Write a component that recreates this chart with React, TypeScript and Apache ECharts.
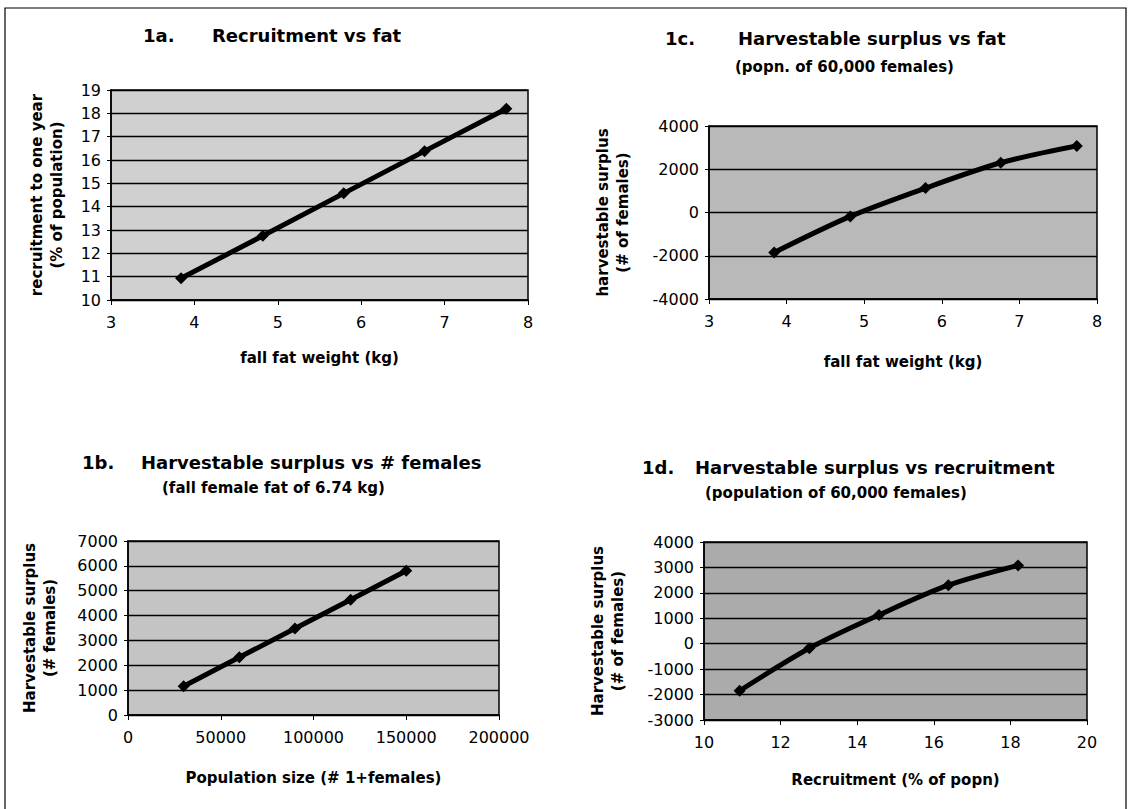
import React, { useEffect, useRef } from "react";
import * as echarts from "echarts";

// ---- data ----
const fatKg = [3.84, 4.82, 5.79, 6.76, 7.74];
const recruitPct = [10.93, 12.75, 14.57, 16.38, 18.2];
const surplus60k = [-1850, -180, 1130, 2300, 3080];
const popSize = [30000, 60000, 90000, 120000, 150000];
const surplusByPop = [1160, 2320, 3480, 4640, 5800];

const FONT = "DejaVu Sans";

const pairs = (xs: number[], ys: number[]) => xs.map((x, i) => [x, ys[i]]);
const plain = (v: number) => String(v);

const xAx = (gridIndex: number, min: number, max: number, interval: number, name: string, nameGap: number) => ({
  type: "value",
  gridIndex,
  min,
  max,
  interval,
  name,
  nameLocation: "middle",
  nameGap,
  nameTextStyle: { color: "#000", fontFamily: FONT, fontWeight: "bold", fontSize: 15 },
  axisLine: { show: true, onZero: false, lineStyle: { color: "#000", width: 1.5 } },
  axisTick: { show: true, length: 5, lineStyle: { color: "#000", width: 1 } },
  axisLabel: { color: "#000", fontFamily: FONT, fontSize: 16, margin: 14, formatter: plain },
  splitLine: { show: false },
});

const yAx = (gridIndex: number, min: number, max: number, interval: number, name: string, nameGap: number) => ({
  type: "value",
  gridIndex,
  min,
  max,
  interval,
  name,
  nameLocation: "middle",
  nameGap,
  nameRotate: 90,
  nameTextStyle: { color: "#000", fontFamily: FONT, fontWeight: "bold", fontSize: 15, lineHeight: 20 },
  axisLine: { show: true, onZero: false, lineStyle: { color: "#000", width: 1.5 } },
  axisTick: { show: true, length: 4, lineStyle: { color: "#000", width: 1 } },
  axisLabel: { color: "#000", fontFamily: FONT, fontSize: 16, margin: 10, formatter: plain },
  splitLine: { show: true, lineStyle: { color: "#000", width: 1.3 } },
});

const series = (i: number, data: number[][], smooth: number | boolean) => ({
  type: "line",
  xAxisIndex: i,
  yAxisIndex: i,
  data,
  smooth,
  symbol: "diamond",
  symbolSize: 12,
  lineStyle: { color: "#000", width: 5 },
  itemStyle: { color: "#000" },
});

const txt = (text: string, x: number, y: number, size: number) => ({
  type: "text",
  x,
  y,
  style: { text, fill: "#000", fontFamily: FONT, fontWeight: "bold", fontSize: size, verticalAlign: "middle" },
});

export default function App() {
  const ref = useRef<HTMLDivElement>(null);
  useEffect(() => {
    if (!ref.current) return;
    const chart = echarts.init(ref.current, null, { renderer: "svg" });
    const gridBase = { show: true, borderColor: "#000", borderWidth: 1.5, containLabel: false };
    chart.setOption({
      animation: false,
      backgroundColor: "#fff",
      grid: [
        { ...gridBase, left: 111, top: 90, width: 417, height: 210, backgroundColor: "#d0d0d0" },
        { ...gridBase, left: 709, top: 126, width: 388, height: 173, backgroundColor: "#b9b9b9" },
        { ...gridBase, left: 128, top: 541, width: 371, height: 174, backgroundColor: "#c4c4c4" },
        { ...gridBase, left: 704, top: 542, width: 383, height: 178, backgroundColor: "#ababab" },
      ],
      xAxis: [
        xAx(0, 3, 8, 1, "fall fat weight (kg)", 50),
        xAx(1, 3, 8, 1, "fall fat weight (kg)", 55),
        xAx(2, 0, 200000, 50000, "Population size (# 1+females)", 55),
        xAx(3, 10, 20, 2, "Recruitment (% of popn)", 52),
      ],
      yAxis: [
        yAx(0, 10, 19, 1, "recruitment to one year\n(% of population)", 44),
        yAx(1, -4000, 4000, 2000, "harvestable surplus\n(# of females)", 76),
        yAx(2, 0, 7000, 1000, "Harvestable surplus\n(# females)", 68),
        yAx(3, -3000, 4000, 1000, "Harvestable surplus\n(# of females)", 76),
      ],
      series: [
        series(0, pairs(fatKg, recruitPct), false),
        series(1, pairs(fatKg, surplus60k), 0.3),
        series(2, pairs(popSize, surplusByPop), false),
        series(3, pairs(recruitPct, surplus60k), 0.3),
      ],
      graphic: [
        {
          type: "rect",
          shape: { x: 5, y: 8, width: 1121, height: 820 },
          style: { fill: "none", stroke: "#000", lineWidth: 1.2 },
          silent: true,
        },
        txt("1a.", 143, 35, 18),
        txt("Recruitment vs fat", 212, 35, 18),
        txt("1c.", 665, 38, 18),
        txt("Harvestable surplus vs fat", 738, 38, 18),
        txt("(popn. of 60,000 females)", 735, 67, 15),
        txt("1b.", 82, 462, 18),
        txt("Harvestable surplus vs # females", 141, 462, 18),
        txt("(fall female fat of 6.74 kg)", 162, 488, 15),
        txt("1d.", 642, 467, 18),
        txt("Harvestable surplus vs recruitment", 695, 467, 18),
        txt("(population of 60,000 females)", 705, 493, 15),
      ],
    });
    return () => chart.dispose();
  }, []);
  return (
    <div
      ref={ref}
      style={{ position: "fixed", left: 0, top: 0, width: 1131, height: 809, background: "#fff" }}
    />
  );
}
